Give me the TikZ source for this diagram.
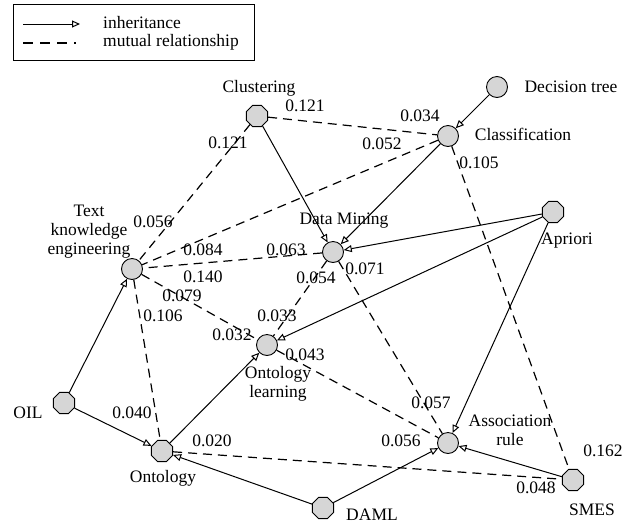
\documentclass[tikz,border=0pt]{standalone}
\usepackage{fontspec}
\setmainfont{Liberation Serif}
\usetikzlibrary{shapes.geometric,arrows.meta}
\begin{document}
\begin{tikzpicture}[x=1pt,y=-1pt,
  font=\fontsize{17.5}{19}\selectfont,
  concept/.style={circle,draw,fill=black!16,minimum size=21pt,inner sep=0pt,line width=0.9pt},
  octa/.style={regular polygon,regular polygon sides=8,draw,fill=black!16,minimum size=23pt,inner sep=0pt,line width=0.9pt},
  inherit/.style={line width=1pt,-{Triangle[open,length=8pt,width=7pt]}},
  mutual/.style={line width=1.2pt,dash pattern=on 9pt off 6pt},
  weight/.style={inner sep=0pt},
  caption/.style={inner sep=0pt,align=center}]
\useasboundingbox (0,0) rectangle (634,528);

% legend
\node[draw,line width=0.9pt,minimum width=241pt,minimum height=56pt,anchor=north west,inner sep=0pt] (legend) at (13,4) {};
\coordinate (li0) at (23,24);
\coordinate (li1) at (80,24);
\coordinate (lm0) at (23,43);
\coordinate (lm1) at (76,43);
\draw[inherit] (li0) -- (li1);
\draw[line width=2.5pt,dash pattern=on 10pt off 7pt] (lm0) -- (lm1);
\node[anchor=west,inner sep=0pt] (lt1) at (103,23) {inheritance};
\node[anchor=west,inner sep=0pt] (lt2) at (103,42) {mutual relationship};

% concepts
\node[concept] (dt) at (497,87) {};
\node[concept] (cls) at (448,136) {};
\node[octa] (clu) at (257,116) {};
\node[concept] (dm) at (333,252) {};
\node[concept] (tke) at (132,269) {};
\node[concept] (ol) at (267,345) {};
\node[octa] (apr) at (553,212) {};
\node[octa] (oil) at (64,403) {};
\node[octa] (ont) at (162,451) {};
\node[octa] (daml) at (323,508) {};
\node[concept] (ar) at (448,443) {};
\node[octa] (smes) at (573,480) {};

% concept names
\node[caption] (tdt) at (571,87) {Decision tree};
\node[caption] (tcls) at (523,134) {Classification};
\node[caption] (tclu) at (259,88) {Clustering};
\node[caption] (tdm) at (344,221) {Data Mining};
\node[caption] (ttke) at (89,232) {Text\\knowledge\\engineering};
\node[caption] (tol) at (278,384) {Ontology\\learning};
\node[caption] (tapr) at (567,241) {Apriori};
\node[caption] (toil) at (28,413) {OIL};
\node[caption] (tont) at (163,478) {Ontology};
\node[caption] (tdaml) at (372,515) {DAML};
\node[caption] (tar) at (510,430) {Association\\rule};
\node[caption] (tsmes) at (592,510) {SMES};

% mutual relationships
\draw[mutual] (clu) -- (cls);
\draw[mutual] (clu) -- (tke);
\draw[mutual] (cls) -- (tke);
\draw[mutual] (cls) -- (smes);
\draw[mutual] (dm) -- (tke);
\draw[mutual] (dm) -- (ar);
\draw[mutual] (dm) -- (ol);
\draw[mutual] (tke) -- (ol);
\draw[mutual] (tke) -- (ont);
\draw[mutual] (ol) -- (ar);
\draw[mutual] (ont) -- (smes);

% inheritance
\draw[inherit] (dt) -- (cls);
\draw[inherit] (cls) -- (dm);
\draw[inherit] (clu) -- (dm);
\draw[inherit] (apr) -- (dm);
\draw[inherit] (apr) -- (ol);
\draw[inherit] (apr) -- (ar);
\draw[inherit] (oil) -- (tke);
\draw[inherit] (oil) -- (ont);
\draw[inherit] (ont) -- (ol);
\draw[inherit] (daml) -- (ont);
\draw[inherit] (daml) -- (ar);
\draw[inherit] (smes) -- (ar);

% weights
\node[weight] (w1) at (305,106) {0.121};
\node[weight] (w2) at (228,143) {0.121};
\node[weight] (w3) at (420,116) {0.034};
\node[weight] (w4) at (382,144) {0.052};
\node[weight] (w5) at (479,163) {0.105};
\node[weight] (w6) at (153,222) {0.056};
\node[weight] (w7) at (203,250) {0.084};
\node[weight] (w8) at (203,277) {0.140};
\node[weight] (w9) at (182,296) {0.079};
\node[weight] (w10) at (163,316) {0.106};
\node[weight] (w11) at (286,250) {0.063};
\node[weight] (w12) at (365,269) {0.071};
\node[weight] (w13) at (316,278) {0.054};
\node[weight] (w14) at (277,316) {0.033};
\node[weight] (w15) at (232,335) {0.032};
\node[weight] (w16) at (305,355) {0.043};
\node[weight] (w17) at (132,413) {0.040};
\node[weight] (w18) at (212,441) {0.020};
\node[weight] (w19) at (431,403) {0.057};
\node[weight] (w20) at (401,441) {0.056};
\node[weight] (w21) at (603,451) {0.162};
\node[weight] (w22) at (536,488) {0.048};
\end{tikzpicture}
\end{document}
